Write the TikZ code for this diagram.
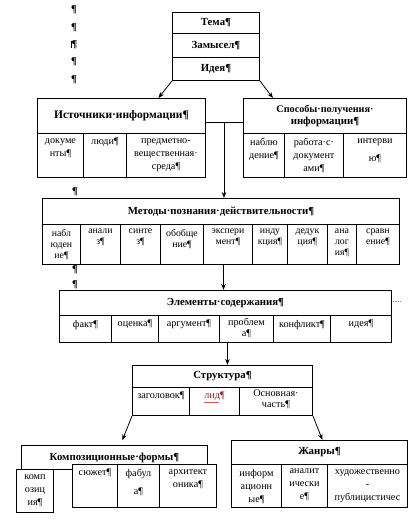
\documentclass[tikz,border=0pt]{standalone}
\usepackage{fontspec}
\setmainfont{Liberation Serif}
\usetikzlibrary{arrows.meta,decorations.pathmorphing}
\newcommand\tabcell[6]{%
  \node[box, minimum width=#4pt, minimum height=#5pt] (#1) at (#2,#3) {};
  \node[txt] (#1t) at ([yshift=-5pt]#1.north) {#6};}
\newcommand\hdrcell[6]{%
  \node[box, minimum width=#4pt, minimum height=#5pt] (#1) at (#2,#3) {};
  \node[hdr] (#1t) at (#1.center) {#6};}
\begin{document}
\begin{tikzpicture}[x=1pt,y=-1pt,
  box/.style={draw, line width=0.9pt, fill=white, inner sep=0pt, anchor=north west},
  hdr/.style={font=\fontsize{10.8}{12}\selectfont\bfseries, align=center, inner sep=0pt},
  txt/.style={font=\fontsize{10.2}{13}\selectfont, align=center, inner sep=0pt, anchor=north},
  arr/.style={-{Stealth[length=6pt,width=4.5pt]}, line width=0.8pt},
  conn/.style={line width=0.8pt},
  pil/.style={font=\fontsize{10.5}{11}\selectfont\bfseries, inner sep=0pt}
]
\useasboundingbox (0,0) rectangle (416,522);
% paragraph marks on the left
\node[pil] (p1) at (74,10) {¶};
\node[pil] (p2) at (74,28) {¶};
\node[pil] (p3) at (74,45) {\rule{0.8pt}{7pt}¶};
\node[pil] (p4) at (74,62) {¶};
\node[pil] (p5) at (74,80) {¶};
\node[pil] (p6) at (75,192) {¶};
\node[pil] (p7) at (75,270) {¶};
\node[pil] (p8) at (75,285) {¶};
% top stack
\hdrcell{tema}{172}{12}{87}{21}{Тема¶}
\hdrcell{zam}{172}{33}{87}{24}{Замысел¶}
\hdrcell{ideya}{172}{57}{87}{23}{Идея¶}
% sources
\hdrcell{ist}{37}{98}{168}{35}{\fontsize{11.5}{13}\selectfont Источники·информации¶}
\tabcell{ist1}{37}{133}{46}{44}{докуме\\нты¶}
\tabcell{ist2}{83}{133}{43}{44}{люди¶}
\tabcell{ist3}{126}{133}{79}{44}{предметно-\\вещественная·\\среда¶}
% ways
\hdrcell{spo}{243}{98}{163}{35}{\fontsize{10.2}{11.5}\selectfont Способы·получения·\\информации¶}
\tabcell{spo1}{243}{133}{41}{44}{наблю\\дение¶}
\tabcell{spo2}{284}{133}{59}{44}{работа·с·\\документ\\ами¶}
\tabcell{spo3}{343}{133}{63}{44}{интерви\\[5pt]ю¶}
% methods
\hdrcell{met}{42}{198}{357}{26}{Методы·познания·действительности¶}
\begin{scope}[txt/.append style={font=\fontsize{9.8}{11}\selectfont}]
\tabcell{m1}{42}{224}{38}{40}{набл\\юден\\ие¶}
\tabcell{m2}{80}{224}{40}{40}{анали\\з¶}
\tabcell{m3}{120}{224}{40}{40}{синте\\з¶}
\tabcell{m4}{160}{224}{43}{40}{обобще\\ние¶}
\tabcell{m5}{203}{224}{49}{40}{экспери\\мент¶}
\tabcell{m6}{252}{224}{35}{40}{инду\\кция¶}
\tabcell{m7}{287}{224}{40}{40}{дедук\\ция¶}
\tabcell{m8}{327}{224}{29}{40}{ана\\лог\\ия¶}
\tabcell{m9}{356}{224}{43}{40}{сравн\\ение¶}
\end{scope}
% elements
\hdrcell{elem}{59}{290}{332}{25}{Элементы·содержания¶}
\tabcell{e1}{59}{315}{52}{27}{факт¶}
\tabcell{e2}{111}{315}{47}{27}{оценка¶}
\tabcell{e3}{158}{315}{61}{27}{аргумент¶}
\node[box, minimum width=54pt, minimum height=27pt] (e4) at (219,315) {};
\node[txt, font=\fontsize{10.2}{11}\selectfont] (e4t) at ([yshift=-3pt]e4.north) {проблем\\а¶};
\tabcell{e5}{273}{315}{57}{27}{конфликт¶}
\tabcell{e6}{330}{315}{61}{27}{идея¶}
\node[font=\fontsize{7}{8}\selectfont, inner sep=0pt] (dots) at (397,302) {.....};
% structure
\hdrcell{str}{132}{365}{180}{22}{Структура¶}
\tabcell{s1}{132}{387}{57}{28}{заголовок¶}
\node[box, minimum width=50pt, minimum height=28pt] (s2) at (189,387) {};
\node[txt, text={rgb,255:red,140;green,30;blue,30}] (s2t) at ([yshift=-5pt]s2.north) {лид¶};
\node[box, minimum width=73pt, minimum height=28pt] (s3) at (239,387) {};
\node[txt, font=\fontsize{10.2}{11}\selectfont] (s3t) at ([yshift=-3pt]s3.north) {Основная·\\часть¶};
% composition
\hdrcell{komp}{21}{445}{186}{24}{Композиционные·формы¶}
\tabcell{k1}{72}{464}{45}{43}{сюжет¶}
\tabcell{k2}{117}{464}{42}{43}{фабул\\[5pt]а¶}
\tabcell{k3}{159}{464}{57}{43}{архитект\\оника¶}
\tabcell{k0}{16}{469}{37}{43}{комп\\озиц\\ия¶}
% genres
\hdrcell{zh}{231}{440}{176}{24}{Жанры¶}
\tabcell{z1}{231}{464}{50}{43}{информ\\ационн\\ые¶}
\tabcell{z2}{281}{464}{46}{43}{аналит\\ически\\е¶}
\tabcell{z3}{327}{464}{80}{43}{художественно\\-\\публицистичес}
% connectors
\draw[arr] (ideya.south west) -- ([xshift=37pt]ist.north);
\draw[arr] (ideya.south east) -- ([xshift=-52pt]spo.north);
\draw[conn] ([yshift=-6.5pt]ist.east) -- ([yshift=-6.5pt]spo.west);
\coordinate (j1) at (224,122);
\draw[arr] (j1) -- (j1 |- met.north);
\coordinate (mb) at ([xshift=-4.5pt]m5.south);
\draw[arr] (mb) -- (mb |- elem.north);
\coordinate (eb) at ([xshift=-19pt]e4.south);
\draw[arr] (eb) -- (eb |- str.north);
\draw[arr, shorten >=5pt] (s1.south west) -- ([xshift=6pt]komp.north);
\draw[arr] (s3.south east) -- ([xshift=3pt]zh.north);
\draw[red, line width=0.5pt, decorate, decoration={snake, amplitude=0.5pt, segment length=2.5pt}] ([yshift=-1.5pt]s2t.south west) -- ([yshift=-1.5pt,xshift=-6pt]s2t.south east);
\end{tikzpicture}
\end{document}
